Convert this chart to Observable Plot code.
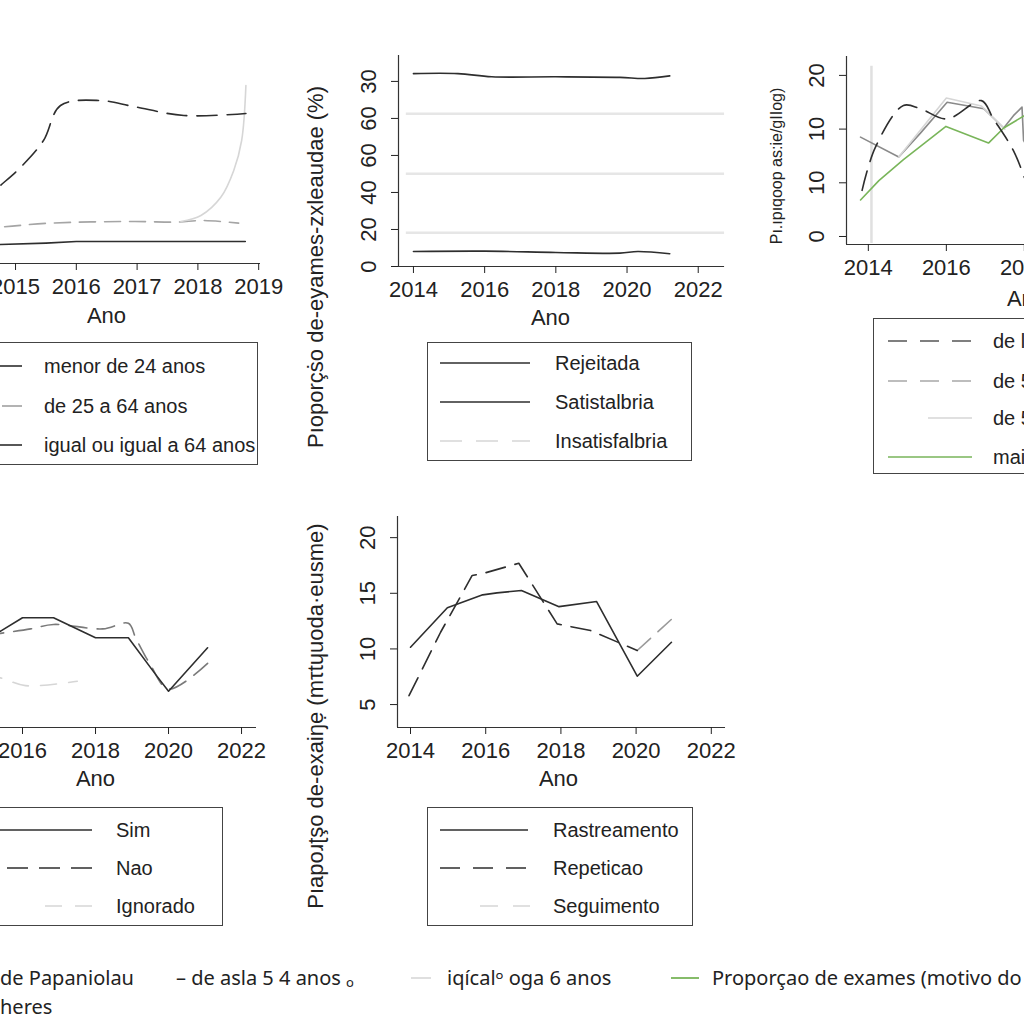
<!DOCTYPE html>
<html><head><meta charset="utf-8">
<script src="https://cdn.jsdelivr.net/npm/d3@7"></script>
<script src="https://cdn.jsdelivr.net/npm/@observablehq/plot@0.6"></script>
<style>
body{margin:0;background:#fff;}
#root{position:relative;width:1024px;height:1024px;overflow:hidden;background:#fff;font-family:"Liberation Sans",Arial,sans-serif;color:#222;}
.ytitle{position:absolute;white-space:nowrap;transform:translate(-50%,-50%) rotate(-90deg);font-size:22px;color:#222;}
.legend{position:absolute;border:1.3px solid #444;background:#fff;box-sizing:border-box;}
.ltext{position:absolute;white-space:nowrap;font-size:20px;transform:translateY(-50%);line-height:1;}
.sw{position:absolute;overflow:visible;}
.bottom{position:absolute;white-space:nowrap;font-family:"Noto Sans",sans-serif;font-size:20px;color:#222;transform:translateY(-50%);line-height:1;}
</style></head>
<body><div id="root"></div>
<script>
// ---------- DATA ----------
// Panel 1 (faixa etaria)
const p1MenorYears = [2014, 2014.75, 2015.5, 2016, 2017, 2018, 2018.78];
const p1MenorVals  = [3.5, 5.5, 6.2, 7, 7, 7, 7];
const p1De25Years  = [2014, 2014.75, 2015.58, 2016.94, 2017.67, 2018.05, 2018.67];
const p1De25Vals   = [12.5, 14.2, 16.2, 17, 16.7, 17.5, 16.2];
const p1IgualYears = [2014, 2014.75, 2015.08, 2015.46, 2015.74, 2016.4, 2016.94, 2017.77, 2018.79];
const p1IgualVals  = [16, 35, 44, 57.5, 75, 77.5, 74.5, 70, 71];
const p1ClaraYears = [2017.72, 2018.05, 2018.38, 2018.59, 2018.72, 2018.79];
const p1ClaraVals  = [17, 20, 29.2, 42.5, 57.5, 85];
const p1Ticks = [2014, 2015, 2016, 2017, 2018, 2019];

// Panel 2 (adequabilidade)
const p2RejYears = [2014, 2015.25, 2016.2, 2018, 2019.8, 2020.5, 2021.2];
const p2RejVals  = [104.2, 104.2, 102.5, 102.5, 102.2, 101.6, 103];
const p2SatYears = [2014, 2016, 2018, 2019.8, 2020.3, 2021.2];
const p2SatVals  = [8.1, 8.3, 7.6, 7.2, 8.1, 6.9];
const p2InsatVals = [82.5, 50.1, 18.2];
const p2InsatSpan = [2013.8, 2022.74];
const p2XTicks = [2014, 2016, 2018, 2020, 2022];
const p2YTicks = [0, 20, 40, 60, 80, 100];
const p2YLabels = ["0", "20", "40", "60", "60", "30"];

// Panel 3
const p3DashYears = [2013.84, 2014.18, 2014.9, 2015.33, 2016.02, 2016.9, 2017.2, 2017.72, 2018.0];
const p3DashVals  = [8.6, 16.6, 24.4, 23.8, 21.9, 25.3, 22, 16, 11];
const p3GrayYears = [2013.8, 2014.78, 2015.33, 2016.02, 2016.96, 2017.47, 2017.72, 2017.94, 2017.98, 2018.2];
const p3GrayVals  = [18.5, 14.8, 19.2, 25, 23.8, 20.2, 22.5, 24.1, 17.9, 15];
const p3LightYears = [2014.78, 2016.0, 2016.9, 2017.5];
const p3LightVals  = [14.8, 25.8, 24.3, 20];
const p3GreenYears = [2013.8, 2014.27, 2014.9, 2015.99, 2017.08, 2017.47, 2018.0];
const p3GreenVals  = [6.8, 10.4, 14.3, 20.5, 17.4, 20.2, 22.5];
const p3Mark = [2014.08];
const p3MarkRange = [-1.3, 31.7];
const p3XTicks = [2014, 2016, 2018, 2020, 2022];
const p3YTicks = [0, 10, 20, 30];
const p3YLabels = ["0", "10", "10", "20"];

// Panel 4 (Sim / Nao / Ignorado)
const p4SimYears = [2015, 2015.4, 2016, 2016.85, 2018, 2018.9, 2019.67, 2020, 2021.07];
const p4SimVals  = [11.2, 11.6, 12.8, 12.8, 11.0, 11.0, 7.6, 6.2, 10.1];
const p4NaoYears = [2015, 2015.4, 2016.22, 2016.85, 2018.2, 2018.9, 2019.1, 2019.5, 2020, 2021.07];
const p4NaoVals  = [11.2, 11.4, 11.8, 12.2, 11.8, 12.3, 11.0, 8.6, 6.4, 8.7];
const p4IgnYears = [2015, 2015.4, 2016.08, 2017.5];
const p4IgnVals  = [7.6, 7.4, 6.7, 7.1];
const p4XTicks = [2014, 2016, 2018, 2020, 2022];

// Panel 5 (motivo do exame)
const p5RastYears = [2014, 2014.98, 2015.92, 2016.3, 2016.95, 2017.95, 2018.95, 2020.03, 2020.94];
const p5RastVals  = [10.15, 13.7, 14.86, 15.04, 15.25, 13.8, 14.26, 7.55, 10.6];
const p5RepYears = [2013.96, 2014.8, 2015.64, 2015.95, 2016.88, 2017.9, 2018.79, 2020.03];
const p5RepVals  = [5.8, 11.5, 16.6, 16.8, 17.7, 12.25, 11.65, 9.86];
const p5SegYears = [2020.03, 2021.1];
const p5SegVals  = [9.86, 13.15];
const p5XTicks = [2014, 2016, 2018, 2020, 2022];
const p5YTicks = [5, 10, 15, 20];

// ---------- STYLE ----------
const DARK = "#2e2e2e", MID = "#8a8a8a", LIGHT = "#d6d6d6", GREEN = "#79b55a";
const root = document.getElementById("root");
const rows = (xs, ys) => xs.map((x, i) => ({x, y: ys[i]}));

function line(xs, ys, stroke, dash, curve) {
  return Plot.line(rows(xs, ys), {x: "x", y: "y", stroke, strokeWidth: 1.6,
    strokeDasharray: dash || null, curve: curve || "linear"});
}

function panel(o) {
  const marginLeft = o.fx0 - o.left, marginRight = o.left + o.width - o.fx1;
  const marginTop = o.fy1 - o.top, marginBottom = o.top + o.height - o.fy0;
  const marks = [...o.marks];
  const axEnd = o.axisEnd ?? o.xd[1];
  marks.push(Plot.ruleY([{y: o.yd[0], a: o.xd[0], b: axEnd}], {y: "y", x1: "a", x2: "b", stroke: "#333", strokeWidth: 1.2}));
  if (o.yTicks) marks.push(Plot.ruleX([o.xd[0]], {stroke: "#333", strokeWidth: 1.2}));
  marks.push(Plot.axisX({ticks: o.xTicks, tickFormat: d => String(d), tickSize: 7, tickPadding: 8,
    label: "Ano", labelAnchor: "center", labelArrow: "none", labelOffset: o.labelOffset}));
  if (o.yTicks) {
    const lab = new Map(o.yTicks.map((t, i) => [t, o.yLabels ? o.yLabels[i] : String(t)]));
    marks.push(Plot.axisY({ticks: o.yTicks, tickFormat: d => lab.get(d), tickRotate: -90,
      tickSize: 7, tickPadding: 16, label: null}));
  }
  const svg = Plot.plot({
    width: o.width, height: o.height, marginLeft, marginRight, marginTop, marginBottom,
    x: {domain: o.xd, axis: null}, y: {domain: o.yd, axis: null},
    style: {position: "absolute", left: o.left + "px", top: o.top + "px", overflow: "visible",
      fontFamily: '"Liberation Sans", Arial, sans-serif', fontSize: "22px", color: "#222", background: "transparent"},
    marks
  });
  root.appendChild(svg);
}

function legend(box, items) {
  const d = document.createElement("div");
  d.className = "legend";
  Object.assign(d.style, {left: box.l + "px", top: box.t + "px", width: (box.r - box.l) + "px", height: (box.b - box.t) + "px"});
  root.appendChild(d);
  for (const it of items) {
    const s = document.createElementNS("http://www.w3.org/2000/svg", "svg");
    s.setAttribute("class", "sw");
    s.setAttribute("width", it.x2 - it.x1); s.setAttribute("height", 6);
    Object.assign(s.style, {left: it.x1 + "px", top: (it.y - 3) + "px"});
    s.innerHTML = `<line x1="0" x2="${it.x2 - it.x1}" y1="3" y2="3" stroke="${it.stroke}" stroke-width="1.6" ${it.dash ? `stroke-dasharray="${it.dash}"` : ""}/>`;
    root.appendChild(s);
    const t = document.createElement("div");
    t.className = "ltext"; t.textContent = it.text;
    Object.assign(t.style, {left: box.tx + "px", top: it.y + "px"});
    root.appendChild(t);
  }
}

function ytitle(text, cx, cy, size) {
  const d = document.createElement("div");
  d.className = "ytitle"; d.textContent = text;
  Object.assign(d.style, {left: cx + "px", top: cy + "px", fontSize: size + "px"});
  root.appendChild(d);
}

// ---------- PANELS ----------
panel({left: -80, top: 40, width: 360, height: 260, fx0: -48, fx1: 260, fy0: 263, fy1: 55,
  xd: [2013.963, 2019.03], yd: [-4, 100], xTicks: p1Ticks, labelOffset: 59,
  marks: [
    line(p1MenorYears, p1MenorVals, DARK),
    line(p1De25Years, p1De25Vals, "#a5a5a5", "16,9", "catmull-rom"),
    line(p1ClaraYears, p1ClaraVals, LIGHT, null, "catmull-rom"),
    line(p1IgualYears, p1IgualVals, DARK, "20,10", "catmull-rom")
  ]});

panel({left: 330, top: 40, width: 420, height: 250, fx0: 398, fx1: 702, fy0: 266, fy1: 55,
  xd: [2013.58, 2022.12], axisEnd: 2022.74, yd: [0, 114], xTicks: p2XTicks, yTicks: p2YTicks, yLabels: p2YLabels, labelOffset: 58,
  marks: [
    Plot.ruleY(p2InsatVals.map(v => ({v, a: p2InsatSpan[0], b: p2InsatSpan[1]})), {y: "v", x1: "a", x2: "b", stroke: "#e6e6e6", strokeWidth: 2.5}),
    line(p2RejYears, p2RejVals, DARK, null, "catmull-rom"),
    line(p2SatYears, p2SatVals, DARK, null, "catmull-rom")
  ]});

panel({left: 790, top: 40, width: 440, height: 250, fx0: 846, fx1: 1206, fy0: 244, fy1: 56,
  xd: [2013.44, 2022.67], yd: [-1.49, 33.52], xTicks: p3XTicks, yTicks: p3YTicks, yLabels: p3YLabels, labelOffset: 61,
  marks: [
    Plot.ruleX(p3Mark.map(x => ({x, a: p3MarkRange[0], b: p3MarkRange[1]})), {x: "x", y1: "a", y2: "b", stroke: "#e0e0e0", strokeWidth: 2.5}),
    line(p3GrayYears, p3GrayVals, MID),
    line(p3LightYears, p3LightVals, LIGHT),
    line(p3GreenYears, p3GreenVals, GREEN),
    line(p3DashYears, p3DashVals, DARK, "20,10", "catmull-rom")
  ]});

panel({left: -80, top: 500, width: 350, height: 260, fx0: -66, fx1: 256, fy0: 727, fy1: 516,
  xd: [2013.589, 2022.41], yd: [2.94, 21.9], xTicks: p4XTicks, labelOffset: 58,
  marks: [
    line(p4IgnYears, p4IgnVals, LIGHT, "16,12", "catmull-rom"),
    line(p4NaoYears, p4NaoVals, "#7a7a7a", "18,10", "catmull-rom"),
    line(p4SimYears, p4SimVals, DARK)
  ]});

panel({left: 330, top: 500, width: 420, height: 260, fx0: 397, fx1: 719, fy0: 727, fy1: 516,
  xd: [2013.654, 2022.218], axisEnd: 2022.378, yd: [2.94, 21.9], xTicks: p5XTicks, yTicks: p5YTicks, labelOffset: 58,
  marks: [
    line(p5SegYears, p5SegVals, "#9a9a9a", "18,10"),
    line(p5RepYears, p5RepVals, DARK, "20,10"),
    line(p5RastYears, p5RastVals, DARK)
  ]});

// ---------- AXIS TITLES ----------
ytitle("Pıoporçṡo de-eyames-zxleaudae (%)", 316, 267, 22);
ytitle("Pı.ıpıqoop as:ie/ɡIIoɡ)", 777, 166, 16);
ytitle("Pıapoɹʈşo de-exaiŋẹ (mτtɥuoda·eusme)", 316, 716, 22);

// ---------- LEGENDS ----------
legend({l: -30, t: 342, r: 258, b: 465, tx: 44}, [
  {y: 366, x1: -10, x2: 22, stroke: DARK, text: "menor de 24 anos"},
  {y: 406, x1: 2, x2: 22, stroke: "#a0a0a0", text: "de 25 a 64 anos"},
  {y: 445, x1: -10, x2: 22, stroke: DARK, text: "igual ou igual a 64 anos"}
]);
legend({l: 427, t: 342, r: 692, b: 461, tx: 555}, [
  {y: 363, x1: 440, x2: 530, stroke: DARK, text: "Rejeitada"},
  {y: 402, x1: 440, x2: 530, stroke: DARK, text: "Satistalbria"},
  {y: 441, x1: 440, x2: 530, stroke: LIGHT, dash: "22,14", text: "Insatisfalbria"}
]);
legend({l: 873, t: 318, r: 1100, b: 474, tx: 993}, [
  {y: 341, x1: 888, x2: 972, stroke: "#555", dash: "19,13", text: "de l5 a 24 anos"},
  {y: 381, x1: 888, x2: 972, stroke: "#a8a8a8", dash: "19,13", text: "de 5 a 54 anos"},
  {y: 418, x1: 928, x2: 972, stroke: LIGHT, text: "de 55 a 64 anos"},
  {y: 457, x1: 888, x2: 972, stroke: GREEN, text: "maior de 64 anos"}
]);
legend({l: -30, t: 807, r: 223, b: 926, tx: 116}, [
  {y: 830, x1: -10, x2: 92, stroke: DARK, text: "Sim"},
  {y: 868, x1: -25, x2: 92, stroke: DARK, dash: "21,11", text: "Nao"},
  {y: 906, x1: 45, x2: 92, stroke: LIGHT, dash: "17,13", text: "Ignorado"}
]);
legend({l: 427, t: 807, r: 693, b: 926, tx: 553}, [
  {y: 830, x1: 440, x2: 528, stroke: DARK, text: "Rastreamento"},
  {y: 868, x1: 440, x2: 528, stroke: DARK, dash: "20,13", text: "Repeticao"},
  {y: 906, x1: 480, x2: 530, stroke: LIGHT, dash: "18,15", text: "Seguimento"}
]);

// ---------- BOTTOM LEGEND ----------
function btext(text, x, y) {
  const d = document.createElement("div");
  d.className = "bottom"; d.textContent = text;
  Object.assign(d.style, {left: x + "px", top: y + "px"});
  root.appendChild(d);
}
function bswatch(x1, x2, y, stroke) {
  const s = document.createElementNS("http://www.w3.org/2000/svg", "svg");
  s.setAttribute("class", "sw"); s.setAttribute("width", x2 - x1); s.setAttribute("height", 6);
  Object.assign(s.style, {left: x1 + "px", top: (y - 3) + "px"});
  s.innerHTML = `<line x1="0" x2="${x2 - x1}" y1="3" y2="3" stroke="${stroke}" stroke-width="1.8"/>`;
  root.appendChild(s);
}
btext("de Papaniolau", 0, 978);
btext("heres", 0, 1007);
btext("– de asla 5 4 anos ₒ", 176, 978);
bswatch(411, 431, 978, "#dcdcdc");
btext("iqícalᵒ oga 6 anos", 447, 978);
bswatch(671, 699, 978, GREEN);
btext("Proporçao de exames (motivo do exame)", 712, 978);
</script>
</body></html>
